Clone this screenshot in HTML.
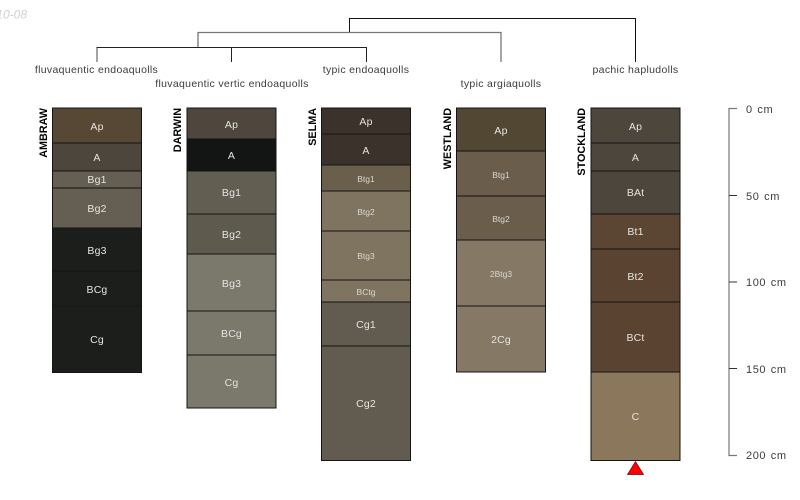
<!DOCTYPE html>
<html><head><meta charset="utf-8"><style>
html,body{margin:0;padding:0;background:#fff}
svg{display:block}
text{font-family:"Liberation Sans",sans-serif}
.h text{fill:#e4e4e0;text-anchor:middle}
.s{font-size:10.5px;letter-spacing:.15px}
.t{font-size:8.5px;fill:#d8d8d2 !important}
.l{font-size:10.5px;fill:#3c3c3c;text-anchor:middle;letter-spacing:.32px}
.n{font-size:10.8px;font-weight:bold;fill:#000;text-anchor:end}
.d{font-size:11px;fill:#3c3c3c;letter-spacing:.6px;word-spacing:1px}
</style></head><body>
<svg width="800" height="500" viewBox="0 0 800 500" xmlns="http://www.w3.org/2000/svg">
<rect width="800" height="500" fill="#fff"/>
<text x="27" y="18.500" text-anchor="end" font-size="12" font-style="italic" fill="#d0d0d0">10-08</text>

<g fill="none" stroke-width="1">
<path d="M349.500 32V18.500H635.500V62" stroke="#111"/>
<path d="M198 47V32.500H501V62" stroke="#777" stroke-width="1.300"/>
<path d="M97 62V47.500H366.500V62M231.500 47.500V62" stroke="#222"/>
<path d="M97 48V62" stroke="#666" stroke-width="1.200"/>
</g>

<text class="l" x="96.500" y="73">fluvaquentic endoaquolls</text>
<text class="l" x="232" y="87">fluvaquentic vertic endoaquolls</text>
<text class="l" x="366" y="73">typic endoaquolls</text>
<text class="l" x="501" y="87">typic argiaquolls</text>
<text class="l" x="635.500" y="73">pachic hapludolls</text>

<g stroke="#141414" stroke-width="1">
<!-- AMBRAW -->
<rect x="52.500" y="108" width="89" height="35" fill="#574836"/>
<rect x="52.500" y="143" width="89" height="28" fill="#4d463c"/>
<rect x="52.500" y="171" width="89" height="17" fill="#655e52"/>
<rect x="52.500" y="188" width="89" height="40" fill="#655e52"/>
<rect x="52.500" y="228" width="89" height="43" fill="#1c1e1c"/>
<rect x="52.500" y="271" width="89" height="35" fill="#1c1e1c"/>
<rect x="52.500" y="306" width="89" height="66.500" fill="#1c1e1c"/>
<!-- DARWIN -->
<rect x="187" y="108" width="89" height="31" fill="#4f473d"/>
<rect x="187" y="139" width="89" height="32" fill="#131514"/>
<rect x="187" y="171" width="89" height="43" fill="#625f52"/>
<rect x="187" y="214" width="89" height="40" fill="#5e5b4e"/>
<rect x="187" y="254" width="89" height="57" fill="#7b786c"/>
<rect x="187" y="311" width="89" height="44" fill="#7b786c"/>
<rect x="187" y="355" width="89" height="53" fill="#7b786c"/>
<!-- SELMA -->
<rect x="321.500" y="108" width="89" height="26" fill="#3b322c"/>
<rect x="321.500" y="134" width="89" height="31" fill="#3b322c"/>
<rect x="321.500" y="165" width="89" height="26" fill="#6a5f4b"/>
<rect x="321.500" y="191" width="89" height="40" fill="#7e745f"/>
<rect x="321.500" y="231" width="89" height="49" fill="#7e745f"/>
<rect x="321.500" y="280" width="89" height="22" fill="#7e745f"/>
<rect x="321.500" y="302" width="89" height="44" fill="#625c50"/>
<rect x="321.500" y="346" width="89" height="114.500" fill="#625c50"/>
<!-- WESTLAND -->
<rect x="456.500" y="108" width="89" height="43" fill="#524733"/>
<rect x="456.500" y="151" width="89" height="45" fill="#6b5d4c"/>
<rect x="456.500" y="196" width="89" height="44" fill="#6b5d4c"/>
<rect x="456.500" y="240" width="89" height="66" fill="#857864"/>
<rect x="456.500" y="306" width="89" height="66" fill="#857864"/>
<!-- STOCKLAND -->
<rect x="591" y="108" width="89" height="35" fill="#4d463c"/>
<rect x="591" y="143" width="89" height="28" fill="#4d463c"/>
<rect x="591" y="171" width="89" height="43" fill="#4d463c"/>
<rect x="591" y="214" width="89" height="35" fill="#5a4632"/>
<rect x="591" y="249" width="89" height="53" fill="#5a4431"/>
<rect x="591" y="302" width="89" height="70" fill="#5a4431"/>
<rect x="591" y="372" width="89" height="88.500" fill="#8b785c"/>
</g>

<g class="h">
<text class="s" x="97" y="130">Ap</text>
<text class="s" x="97" y="161">A</text>
<text class="s" x="97" y="183">Bg1</text>
<text class="s" x="97" y="212">Bg2</text>
<text class="s" x="97" y="254">Bg3</text>
<text class="s" x="97" y="293">BCg</text>
<text class="s" x="97" y="343">Cg</text>

<text class="s" x="231.500" y="128">Ap</text>
<text class="s" x="231.500" y="159">A</text>
<text class="s" x="231.500" y="196">Bg1</text>
<text class="s" x="231.500" y="238">Bg2</text>
<text class="s" x="231.500" y="287">Bg3</text>
<text class="s" x="231.500" y="337">BCg</text>
<text class="s" x="231.500" y="386">Cg</text>

<text class="s" x="366" y="125">Ap</text>
<text class="s" x="366" y="154">A</text>
<text class="t" x="366" y="182">Btg1</text>
<text class="t" x="366" y="215">Btg2</text>
<text class="t" x="366" y="259">Btg3</text>
<text class="t" x="366" y="295">BCtg</text>
<text class="s" x="366" y="328">Cg1</text>
<text class="s" x="366" y="407">Cg2</text>

<text class="s" x="501" y="134">Ap</text>
<text class="t" x="501" y="178">Btg1</text>
<text class="t" x="501" y="222">Btg2</text>
<text class="t" x="501" y="277">2Btg3</text>
<text class="s" x="501" y="343">2Cg</text>

<text class="s" x="635.500" y="130">Ap</text>
<text class="s" x="635.500" y="161">A</text>
<text class="s" x="635.500" y="196">BAt</text>
<text class="s" x="635.500" y="235">Bt1</text>
<text class="s" x="635.500" y="280">Bt2</text>
<text class="s" x="635.500" y="341">BCt</text>
<text class="s" x="635.500" y="420">C</text>
</g>

<text class="n" transform="translate(47,108) rotate(-90)">AMBRAW</text>
<text class="n" transform="translate(181,108) rotate(-90)">DARWIN</text>
<text class="n" transform="translate(316,108) rotate(-90)">SELMA</text>
<text class="n" transform="translate(451,108) rotate(-90)">WESTLAND</text>
<text class="n" transform="translate(585,108) rotate(-90)">STOCKLAND</text>

<polygon points="635.500,461.500 643.500,474.500 627.500,474.500" fill="#f00" stroke="#700" stroke-width=".7"/>

<path d="M737 108.500H729V455.500H737" fill="none" stroke="#777" stroke-width="1.200"/>
<path d="M729 195.500H737M729 282H737M729 368.500H737" stroke="#333" stroke-width="1"/>
<text class="d" x="746" y="113">0 cm</text>
<text class="d" x="746" y="200">50 cm</text>
<text class="d" x="746" y="286">100 cm</text>
<text class="d" x="746" y="373">150 cm</text>
<text class="d" x="746" y="459">200 cm</text>
</svg>
</body></html>
